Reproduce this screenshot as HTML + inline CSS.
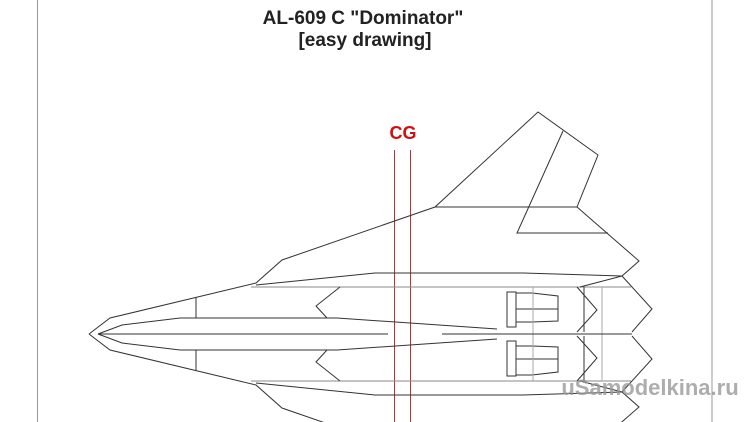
<!DOCTYPE html>
<html><head><style>
html,body{margin:0;padding:0;background:#fff;width:750px;height:422px;overflow:hidden}
</style></head><body>
<svg width="750" height="422" viewBox="0 0 750 422" xmlns="http://www.w3.org/2000/svg" style="display:block">
<rect width="750" height="422" fill="#fff"/>
<line x1="37.5" y1="0" x2="37.5" y2="422" stroke="#999" stroke-width="1"/>
<line x1="712" y1="0" x2="712" y2="422" stroke="#999" stroke-width="1"/>
<text x="363" y="24" text-anchor="middle" font-family="Liberation Sans, sans-serif" font-weight="bold" font-size="19" fill="#222">AL-609 C "Dominator"</text>
<text x="365" y="46" text-anchor="middle" font-family="Liberation Sans, sans-serif" font-weight="bold" font-size="19" fill="#222">[easy drawing]</text>
<text x="403" y="139" text-anchor="middle" font-family="Liberation Sans, sans-serif" font-weight="bold" font-size="18" fill="#d01010">CG</text>
<line x1="394.5" y1="150" x2="394.5" y2="422" stroke="#c03030" stroke-width="1"/>
<line x1="410.5" y1="150" x2="410.5" y2="422" stroke="#c03030" stroke-width="1"/>
<g id="half" fill="none" stroke="#333" stroke-width="1">
<polyline points="89,334 110,318 256,283 282,260 435,207 538,112 598,155 577,207 639,261 622,276"/>
<line x1="435" y1="207" x2="577" y2="207"/>
<polyline points="563,131 517,233 608,233"/>
<polyline points="256,285 375,273 523,273 622,276"/>
<line x1="251" y1="287" x2="631" y2="287" stroke="#888"/>
<polyline points="622,276 580,287"/>
<polyline points="577,287 597,310 577,332"/>
<line x1="584" y1="287" x2="584" y2="332"/>
<polyline points="622,276 652,309 632,332"/>
<polyline points="98,334 122,325 180,318 337,318 497,329"/>
<line x1="196" y1="297" x2="196" y2="318"/>
<polyline points="340,287 316,306 327,318"/>
<rect x="507" y="292" width="9" height="35"/>
<polyline points="516,293 532,293 558,296 558,321 532,322 516,322"/>
<line x1="516" y1="309" x2="558" y2="309"/>
<line x1="533" y1="287" x2="533" y2="334" stroke="#aaa"/>
<line x1="602" y1="287" x2="602" y2="334" stroke="#aaa"/>
</g>
<use href="#half" transform="translate(0,668) scale(1,-1)"/>
<g stroke="#333" stroke-width="1">
<line x1="98" y1="334" x2="388" y2="334"/>
<line x1="442" y1="334" x2="632" y2="334"/>
</g>
<text x="650" y="395" text-anchor="middle" font-family="Liberation Sans, sans-serif" font-weight="bold" font-size="22" fill="#999" opacity="0.8">uSamodelkina.ru</text>
</svg>
</body></html>
